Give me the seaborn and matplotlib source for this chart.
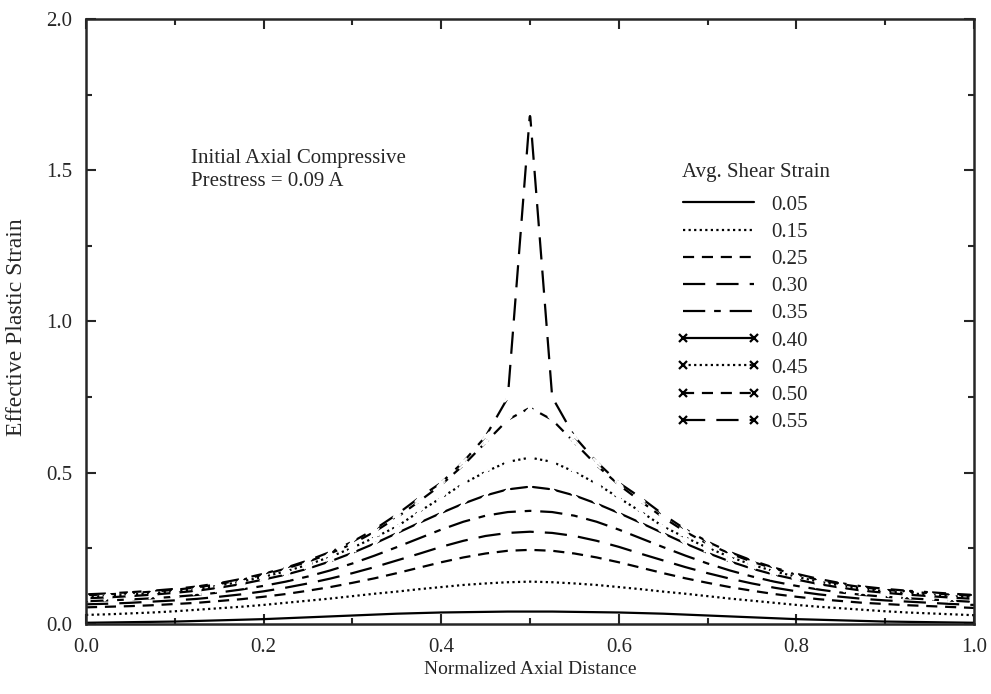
import numpy as np
import pandas as pd
import matplotlib
matplotlib.use('Agg')
import matplotlib.pyplot as plt
from matplotlib.ticker import MultipleLocator
from matplotlib.lines import Line2D
import seaborn as sns

# --- DATA ---
x = [0.0, 0.025, 0.05, 0.075, 0.1, 0.125, 0.15, 0.175, 0.2, 0.225,
     0.25, 0.275, 0.3, 0.325, 0.35, 0.375, 0.4, 0.425, 0.45, 0.475,
     0.5, 0.525, 0.55, 0.575, 0.6, 0.625, 0.65, 0.675, 0.7, 0.725,
     0.75, 0.775, 0.8, 0.825, 0.85, 0.875, 0.9, 0.925, 0.95, 0.975, 1.0]

strain_labels = ['0.05', '0.15', '0.25', '0.30', '0.35', '0.40', '0.45', '0.50', '0.55']

s005 = [0.004, 0.005, 0.006, 0.007, 0.008, 0.010, 0.012, 0.014, 0.016, 0.019,
        0.022, 0.025, 0.028, 0.031, 0.034, 0.036, 0.038, 0.039, 0.040, 0.041,
        0.041, 0.041, 0.040, 0.039, 0.038, 0.036, 0.034, 0.031, 0.028, 0.025,
        0.022, 0.019, 0.016, 0.014, 0.012, 0.010, 0.008, 0.007, 0.006, 0.005, 0.004]
s015 = [0.030, 0.032, 0.035, 0.038, 0.042, 0.047, 0.052, 0.057, 0.063, 0.070,
        0.077, 0.084, 0.092, 0.100, 0.107, 0.115, 0.122, 0.129, 0.134, 0.138,
        0.140, 0.138, 0.134, 0.129, 0.122, 0.115, 0.107, 0.100, 0.092, 0.084,
        0.077, 0.070, 0.063, 0.057, 0.052, 0.047, 0.042, 0.038, 0.035, 0.032, 0.029]
s025 = [0.055, 0.057, 0.059, 0.062, 0.066, 0.070, 0.076, 0.082, 0.090, 0.099,
        0.110, 0.122, 0.136, 0.151, 0.168, 0.186, 0.204, 0.220, 0.233, 0.242,
        0.245, 0.242, 0.233, 0.220, 0.204, 0.186, 0.168, 0.151, 0.136, 0.122,
        0.110, 0.099, 0.090, 0.082, 0.076, 0.070, 0.066, 0.062, 0.059, 0.056, 0.053]
s030 = [0.065, 0.067, 0.070, 0.074, 0.078, 0.083, 0.090, 0.098, 0.108, 0.120,
        0.134, 0.150, 0.168, 0.188, 0.210, 0.232, 0.255, 0.275, 0.291, 0.301,
        0.305, 0.301, 0.291, 0.275, 0.255, 0.232, 0.210, 0.188, 0.168, 0.150,
        0.134, 0.120, 0.108, 0.098, 0.090, 0.083, 0.078, 0.074, 0.070, 0.066, 0.063]
s035 = [0.075, 0.078, 0.081, 0.085, 0.090, 0.096, 0.104, 0.114, 0.126, 0.140,
        0.157, 0.177, 0.200, 0.226, 0.254, 0.283, 0.312, 0.338, 0.358, 0.370,
        0.374, 0.370, 0.358, 0.338, 0.312, 0.283, 0.254, 0.226, 0.200, 0.177,
        0.157, 0.140, 0.126, 0.114, 0.104, 0.096, 0.090, 0.085, 0.081, 0.077, 0.073]
s040 = [0.085, 0.088, 0.092, 0.097, 0.103, 0.110, 0.120, 0.132, 0.147, 0.163,
        0.183, 0.207, 0.235, 0.266, 0.300, 0.334, 0.367, 0.398, 0.425, 0.445,
        0.454, 0.445, 0.425, 0.398, 0.367, 0.334, 0.300, 0.266, 0.235, 0.207,
        0.183, 0.163, 0.147, 0.132, 0.120, 0.110, 0.103, 0.097, 0.092, 0.087, 0.083]
s045 = [0.090, 0.093, 0.097, 0.102, 0.108, 0.116, 0.127, 0.140, 0.156, 0.174,
        0.196, 0.222, 0.252, 0.286, 0.322, 0.371, 0.417, 0.464, 0.503, 0.536,
        0.550, 0.536, 0.503, 0.464, 0.417, 0.371, 0.322, 0.286, 0.252, 0.222,
        0.196, 0.174, 0.156, 0.140, 0.127, 0.116, 0.108, 0.102, 0.097, 0.092, 0.088]
s050 = [0.095, 0.098, 0.102, 0.107, 0.113, 0.121, 0.132, 0.146, 0.163, 0.183,
        0.206, 0.233, 0.265, 0.305, 0.352, 0.405, 0.460, 0.525, 0.600, 0.675,
        0.715, 0.675, 0.600, 0.525, 0.460, 0.405, 0.352, 0.305, 0.265, 0.233,
        0.206, 0.183, 0.163, 0.146, 0.132, 0.121, 0.113, 0.107, 0.102, 0.097, 0.093]
s055 = [0.098, 0.101, 0.105, 0.110, 0.116, 0.124, 0.135, 0.149, 0.166, 0.186,
        0.210, 0.238, 0.272, 0.313, 0.362, 0.417, 0.467, 0.536, 0.620, 0.748,
        1.690, 0.750, 0.620, 0.536, 0.467, 0.417, 0.362, 0.313, 0.272, 0.238,
        0.210, 0.186, 0.166, 0.149, 0.135, 0.124, 0.116, 0.110, 0.105, 0.100, 0.096]

series = [s005, s015, s025, s030, s035, s040, s045, s050, s055]

# --- STYLE ---
sns.set_style('ticks')
plt.rcParams['font.family'] = ['Liberation Serif', 'DejaVu Serif']

dash_styles = ['-', (0, (1, 1.5)), (0, (5, 3.5)), (0, (10, 5)), (0, (10, 4, 3, 4)),
               '-', (0, (1, 1.5)), (0, (5, 3.5)), (0, (10, 5))]
markers = [None, None, None, None, None, 'x', 'x', 'x', 'x']

fig = plt.figure(figsize=(9.91, 6.94), dpi=100)
ax = fig.add_axes([0.0868, 0.1009, 0.8960, 0.8717])

handles = []
for lab, vals, ls, mk in zip(strain_labels, series, dash_styles, markers):
    sns.lineplot(x=x, y=vals, ax=ax, color='black', linestyle=ls, linewidth=1.6,
                 marker=mk, markersize=6, markeredgewidth=1.6, sort=False)
    handles.append(Line2D([], [], color='black', linestyle=ls, linewidth=1.6,
                          marker=mk, markersize=6, markeredgewidth=1.6, label=lab))

ax.set_xlim(0, 1)
ax.set_ylim(0, 2)
ax.xaxis.set_major_locator(MultipleLocator(0.2))
ax.xaxis.set_minor_locator(MultipleLocator(0.1))
ax.yaxis.set_major_locator(MultipleLocator(0.5))
ax.yaxis.set_minor_locator(MultipleLocator(0.25))
ax.tick_params(which='both', direction='in', top=True, right=True, labelsize=15, width=1.5)
ax.tick_params(which='major', length=7)
ax.tick_params(which='minor', length=4)
ax.tick_params(axis='x', which='major', pad=10)
ax.tick_params(axis='y', which='major', pad=10)
ax.xaxis.set_major_formatter(plt.FuncFormatter(lambda v, p: f'{v:.1f}'))
ax.yaxis.set_major_formatter(plt.FuncFormatter(lambda v, p: f'{v:.1f}'))
for sp in ax.spines.values():
    sp.set_linewidth(1.8)

ax.set_xlabel('Normalized Axial Distance', fontsize=14)
ax.set_ylabel('Effective Plastic Strain', fontsize=17)
ax.xaxis.set_label_coords(0.5, -0.062)
ax.yaxis.set_label_coords(-0.066, 0.49)

ax.text(0.118, 1.57, 'Initial Axial Compressive\nPrestress = 0.09 A',
        fontsize=15, va='top', ha='left', linespacing=1.25)

ax.text(0.671, 1.494, 'Avg. Shear Strain', fontsize=15, va='center', ha='left')
leg = ax.legend(handles=handles, loc='upper left',
                bbox_to_anchor=(0.6655, 0.709), frameon=False, fontsize=15,
                numpoints=2, handlelength=4.0, labelspacing=0.365,
                handletextpad=0.53, borderpad=0, borderaxespad=0)

fig.savefig('out.png', dpi=100)
